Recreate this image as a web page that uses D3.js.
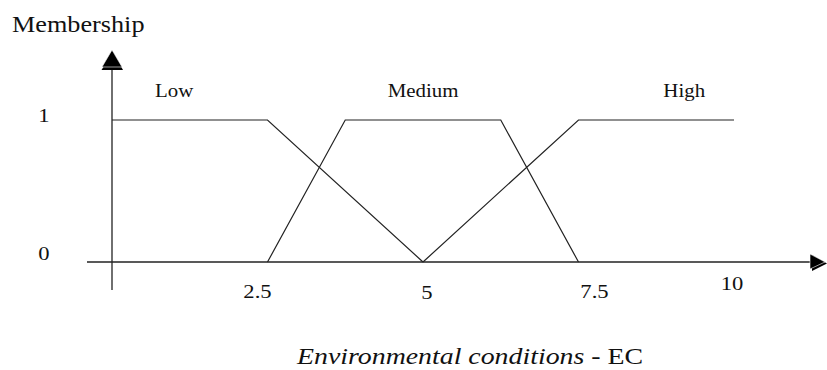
<!DOCTYPE html>
<html>
<head>
<meta charset="utf-8">
<script src="https://cdn.jsdelivr.net/npm/d3@7/dist/d3.min.js"></script>
<style>
  html, body { margin: 0; padding: 0; background: #fff; }
  svg { display: block; }
  text { font-family: "Liberation Serif", "Times New Roman", serif; fill: #111; }
</style>
</head>
<body>
<svg id="chart" width="827" height="370"></svg>
<script>
// ---- data ----
const xTickValues = [2.5, 5, 7.5, 10];
const xTickLabels = ["2.5", "5", "7.5", "10"];
const yTickValues = [0, 1];
const yTickLabels = ["0", "1"];
const setNames = ["Low", "Medium", "High"];
const setLabelAt = [1, 5, 9.2];
const lowPts = [[0, 1], [2.5, 1], [5, 0]];
const mediumPts = [[2.5, 0], [3.75, 1], [6.25, 1], [7.5, 0]];
const highPts = [[5, 0], [7.5, 1], [10, 1]];
const yTitle = "Membership";
const xTitleItalic = "Environmental conditions";
const xTitleRest = " - EC";

// ---- drawing ----
const svg = d3.select("#chart");
const x = d3.scaleLinear().domain([0, 10]).range([112, 734]);
const y = d3.scaleLinear().domain([0, 1]).range([262, 120]);
const SX = 1.16; // horizontal stretch of the reference text

function label(g, txt, px, py, size, anchor, italic) {
  const t = g.append("text")
    .attr("transform", `translate(${px},${py}) scale(${SX},1)`)
    .attr("text-anchor", anchor || "middle")
    .style("font-size", size + "px")
    .text(txt);
  if (italic) t.style("font-style", "italic");
  return t;
}

const stroke = "#222";

// x axis line
svg.append("line").attr("x1", 87).attr("x2", 812)
  .attr("y1", y(0)).attr("y2", y(0))
  .attr("stroke", stroke).attr("stroke-width", 1.3);
// y axis line
svg.append("line").attr("x1", x(0)).attr("x2", x(0))
  .attr("y1", 290).attr("y2", 68)
  .attr("stroke", stroke).attr("stroke-width", 1.3);

// arrow heads: solid black, with a thin white seam and shadow edge
const y0 = y(0), x0 = x(0);
function arrow(pts, shadow) {
  svg.append("polygon").attr("points", shadow.map(p => p.join(",")).join(" "))
    .style("fill", "#000").style("stroke", "none");
  svg.append("polygon").attr("points", pts.map(p => p.join(",")).join(" "))
    .style("fill", "#000").style("stroke", "#fff").style("stroke-width", 0.6);
}
arrow([[x0, 50], [x0 - 10, 67], [x0 + 10, 67]],
      [[x0 + 1, 52], [x0 - 10.5, 70], [x0 + 11, 70]]);
arrow([[810, y0 - 8], [825, y0], [810, y0 + 7]],
      [[812, y0 - 7], [827, y0 + 1.5], [812, y0 + 9]]);

// membership functions
const line = d3.line().x(d => x(d[0])).y(d => y(d[1]));
[lowPts, mediumPts, highPts].forEach(pts => {
  svg.append("path").datum(pts).attr("d", line)
    .attr("fill", "none").attr("stroke", stroke).attr("stroke-width", 1.2);
});

// set names
const nameY = 97;
setNames.forEach((n, i) => label(svg, n, x(setLabelAt[i]), nameY, 18));

// x tick labels (nudged as in reference)
const tickNudge = [[-10, 298], [4, 299], [16, 298], [-2, 290]];
xTickValues.forEach((v, i) => {
  label(svg, xTickLabels[i], x(v) + tickNudge[i][0], tickNudge[i][1], 19.5);
});
// y tick labels
yTickValues.forEach((v, i) => {
  label(svg, yTickLabels[i], 44, y(v) - 2 + (v === 1 ? 4 : 0), 19.5);
});

// axis titles
label(svg, yTitle, 12, 32, 22.6, "start");
const tt = svg.append("text")
  .attr("transform", `translate(297,364) scale(${SX},1)`)
  .attr("text-anchor", "start")
  .style("font-size", "24px");
tt.append("tspan").style("font-style", "italic").text(xTitleItalic);
tt.append("tspan").text(xTitleRest);
</script>
</body>
</html>
